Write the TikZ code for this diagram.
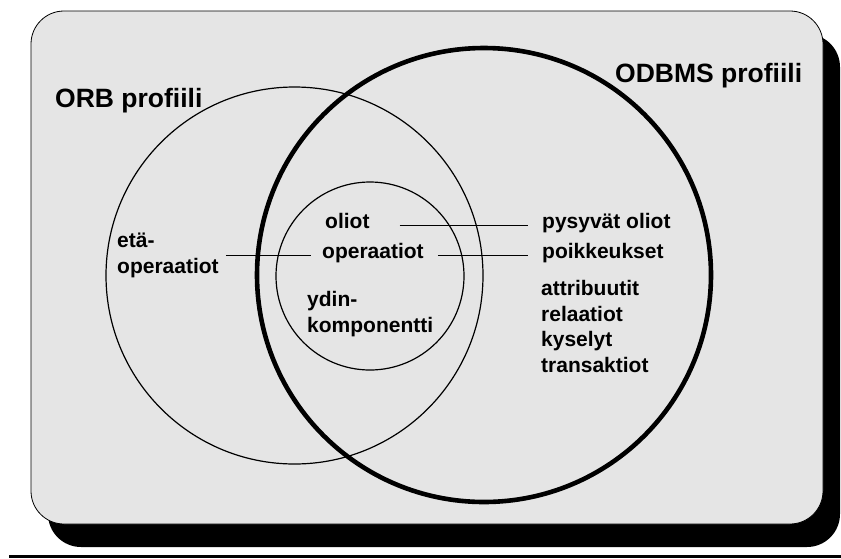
\documentclass[tikz,border=0pt]{standalone}
\usepackage{fontspec}
\setmainfont{Liberation Sans}
\definecolor{panelgray}{gray}{0.9}
\begin{document}
\begin{tikzpicture}[x=1pt,y=-1pt,
  lbl/.style={font=\fontsize{21}{25}\selectfont\bfseries, inner sep=0pt, anchor=base west},
  ttl/.style={font=\fontsize{26.5}{31}\selectfont\bfseries, inner sep=0pt, anchor=base west},
  thinring/.style={draw=black, line width=1.2pt},
  thickring/.style={draw=black, line width=4.6pt},
  lead/.style={draw=black, line width=1.2pt}]
\useasboundingbox (0,0) rectangle (841,558);
% drop shadow and panel
\fill[black, rounded corners=33pt] (48,34) rectangle (840,547);
\filldraw[fill=panelgray, draw=black, line width=0.8pt, rounded corners=33pt] (31,11) rectangle (823,524);
% profile rings
\draw[thinring] (294.5,275.5) circle[radius=188.5pt];
\draw[thinring] (370,276) circle[radius=94pt];
\draw[thickring] (484,275) circle[radius=227pt];
% titles
\node[ttl] (orb) at (55,107) {ORB profiili};
\node[ttl] (odbms) at (615,82) {ODBMS profiili};
% ORB side
\node[lbl] (eta1) at (117,247) {etä-};
\node[lbl] (eta2) at (117,273) {operaatiot};
% core
\node[lbl] (oliot) at (325,228) {oliot};
\node[lbl] (opc) at (322,258) {operaatiot};
\node[lbl] (ydin1) at (307,306) {ydin-};
\node[lbl] (ydin2) at (307,332) {komponentti};
% ODBMS side
\node[lbl] (pysy) at (542,228) {pysyvät oliot};
\node[lbl] (poik) at (542,258) {poikkeukset};
\node[lbl] (attr) at (541,295) {attribuutit};
\node[lbl] (rel) at (541,321) {relaatiot};
\node[lbl] (kys) at (541,346) {kyselyt};
\node[lbl] (trans) at (541,372) {transaktiot};
% leader lines
\draw[lead, shorten <=30pt, shorten >=14pt] (oliot.mid east) -- (pysy.mid west);
\draw[lead, shorten <=14pt, shorten >=14pt] (opc.mid east) -- (poik.mid west);
\draw[lead, shorten <=7pt, shorten >=11pt] (eta2.east |- opc.mid) -- (opc.mid west);
% bottom rule
\fill[black] (9,555) rectangle (841,558);
\end{tikzpicture}
\end{document}
